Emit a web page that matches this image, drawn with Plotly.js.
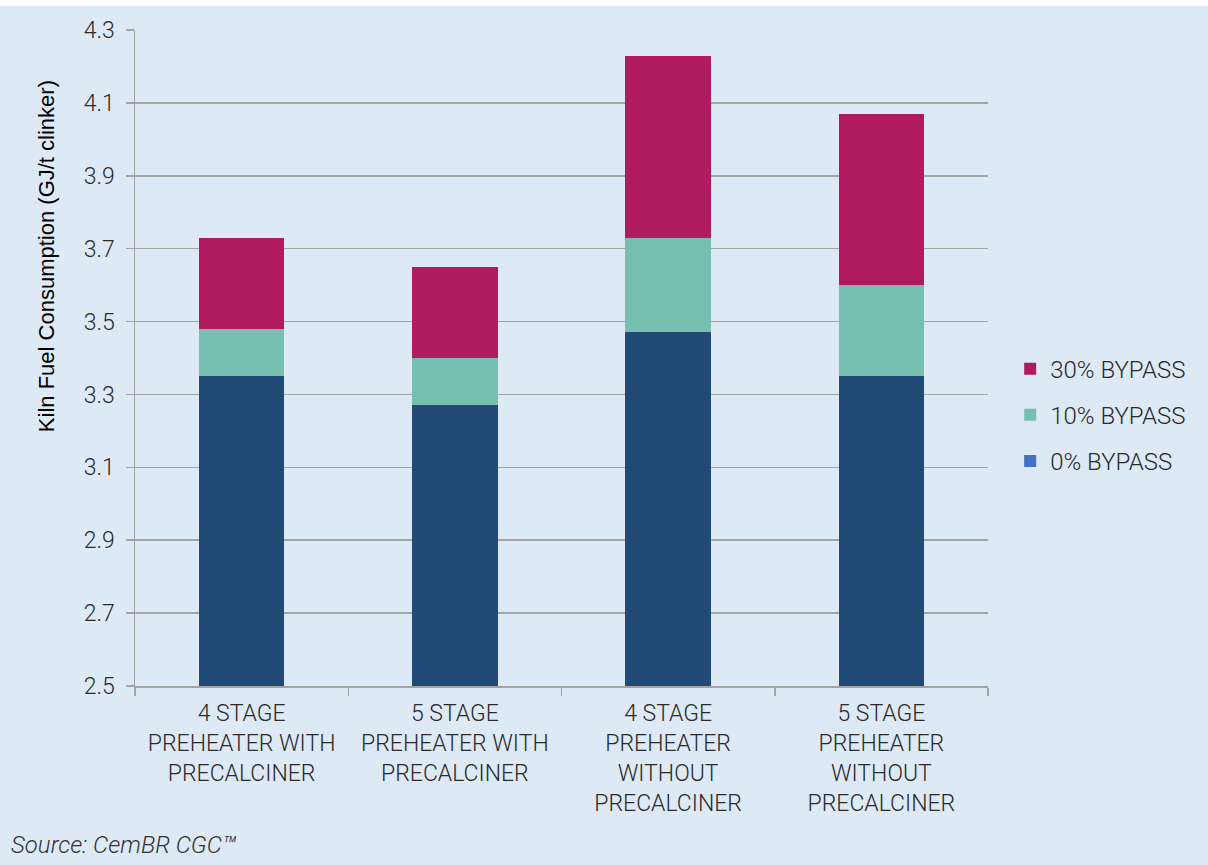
<!DOCTYPE html>
<html>
<head>
<meta charset="utf-8">
<script src="https://cdn.plot.ly/plotly-3.0.1.min.js"></script>
<style>
  html, body { margin: 0; padding: 0; background: #ffffff; }
  #chart { position: absolute; left: 0; top: 6px; width: 1208px; height: 859px; }
</style>
</head>
<body>
<div id="chart"></div>
<script>
const categories = [
  "4 STAGE<br>PREHEATER WITH<br>PRECALCINER",
  "5 STAGE<br>PREHEATER WITH<br>PRECALCINER",
  "4 STAGE<br>PREHEATER<br>WITHOUT<br>PRECALCINER",
  "5 STAGE<br>PREHEATER<br>WITHOUT<br>PRECALCINER"
];
const bypass0 = [3.35, 3.27, 3.47, 3.35];
const bypass10 = [0.13, 0.13, 0.26, 0.25];
const bypass30 = [0.25, 0.25, 0.50, 0.47];
const seriesNames = ["0% BYPASS", "10% BYPASS", "30% BYPASS"];
const yTicks = [2.5, 2.7, 2.9, 3.1, 3.3, 3.5, 3.7, 3.9, 4.1, 4.3];

const C_NAVY = "#214b76";
const C_TEAL = "#77bfb0";
const C_MAG = "#b01a5e";
const C_LEG0 = "#4472c4";

const traces = [
  { type: "bar", x: categories, y: bypass0, name: seriesNames[0], showlegend: false,
    marker: { color: C_NAVY, line: { width: 0 } }, hoverinfo: "y" },
  { type: "bar", x: categories, y: categories.map(() => null), name: seriesNames[0],
    legendgroup: "g0", legendrank: 3, marker: { color: C_LEG0, line: { width: 0 } }, hoverinfo: "skip" },
  { type: "bar", x: categories, y: bypass10, name: seriesNames[1], legendgroup: "g1", legendrank: 2,
    marker: { color: C_TEAL, line: { width: 0 } } },
  { type: "bar", x: categories, y: bypass30, name: seriesNames[2], legendgroup: "g2", legendrank: 1,
    marker: { color: C_MAG, line: { width: 0 } } }
];

const GRID = "#a3a3a3";
const TXT = "#2a2a2a";
const layout = {
  width: 1208, height: 859,
  paper_bgcolor: "#dde9f5",
  plot_bgcolor: "#dde9f5",
  margin: { l: 135, r: 220, t: 24, b: 179 },
  barmode: "stack",
  bargap: 0.6,
  font: { family: "Roboto, sans-serif", color: TXT, size: 22, weight: 300 },
  xaxis: {
    type: "category",
    showline: true, linecolor: GRID, linewidth: 1.5,
    ticks: "outside", tickson: "boundaries", ticklen: 8, tickcolor: GRID, tickwidth: 1.5,
    tickfont: { family: "Roboto, sans-serif", size: 23, color: TXT, weight: 300 },
    ticklabelstandoff: 6,
    showgrid: false
  },
  yaxis: {
    range: [2.5, 4.3],
    tickvals: yTicks,
    ticktext: yTicks.map(v => v.toFixed(1)),
    showgrid: true, gridcolor: GRID, gridwidth: 1.5,
    showline: true, linecolor: GRID, linewidth: 1.5,
    ticks: "outside", ticklen: 8, tickcolor: GRID, tickwidth: 1.5,
    tickfont: { family: "Roboto, sans-serif", size: 23, color: TXT, weight: 300 },
    ticklabelstandoff: 6,
    zeroline: false
  },
  legend: {
    x: 1.026, xanchor: "left",
    y: 0.413, yanchor: "middle",
    traceorder: "grouped",
    tracegroupgap: 12,
    bgcolor: "rgba(0,0,0,0)",
    font: { family: "Roboto, sans-serif", size: 24, color: TXT, weight: 300 }
  },
  annotations: [
    { text: "Kiln Fuel Consumption (GJ/t clinker)", textangle: -90,
      xref: "paper", yref: "paper", x: -0.103, y: 0.6555,
      xanchor: "center", yanchor: "middle", showarrow: false,
      font: { family: "Liberation Sans, Arial, sans-serif", size: 22, color: "#000000" } },
    { text: "<i>Source: CemBR CGC™</i>",
      xref: "paper", yref: "paper", x: -0.1475, y: -0.2424,
      xanchor: "left", yanchor: "middle", showarrow: false,
      font: { family: "Roboto, sans-serif", size: 24, color: "#333333", weight: 300 } }
  ]
};

Plotly.newPlot("chart", traces, layout, { displayModeBar: false, staticPlot: true });
</script>
</body>
</html>
